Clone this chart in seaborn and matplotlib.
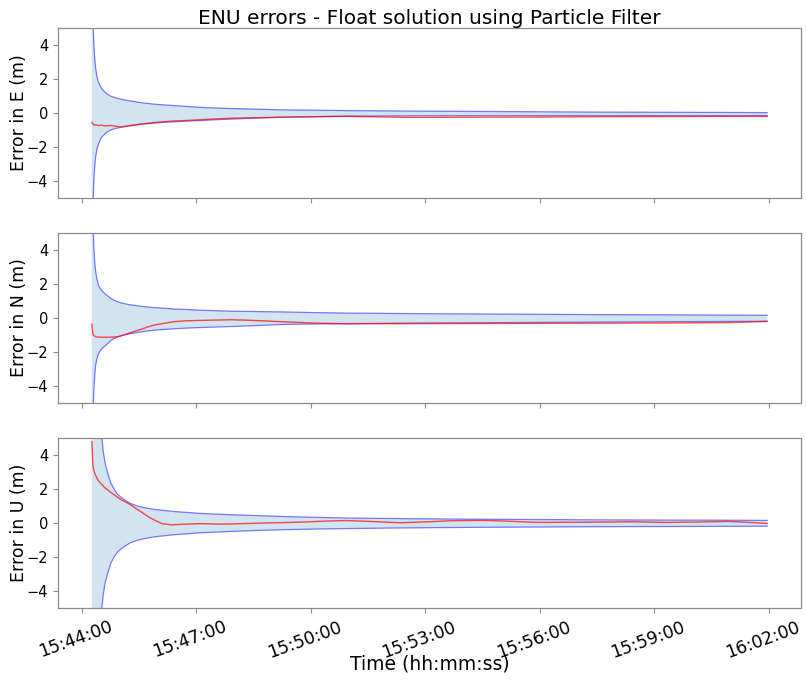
import numpy as np
import pandas as pd
import matplotlib
matplotlib.use("Agg")
import matplotlib.pyplot as plt
import matplotlib.dates as mdates
import matplotlib.transforms as mtransforms
import seaborn as sns

# ---- data ----
start_time = "2021-01-01 15:44:16"
t_s = [0, 1, 2, 3, 4, 5, 6, 8, 10, 12, 15, 18, 21, 25, 30, 35, 40, 45, 52, 60,
       70, 80, 90, 100, 115, 130, 150, 170, 195, 220, 260, 300, 350, 400, 500,
       600, 700, 800, 900, 1000, 1062]

e_upper = [40, 9, 5.4, 4.2, 3.5, 3.0, 2.65, 2.15, 1.86, 1.68, 1.47, 1.33, 1.21,
           1.09, 0.98, 0.92, 0.86, 0.82, 0.76, 0.71, 0.65, 0.59, 0.55, 0.51, 0.47,
           0.43, 0.38, 0.33, 0.29, 0.26, 0.22, 0.18, 0.16, 0.14, 0.11, 0.09, 0.07,
           0.05, 0.04, 0.03, 0.02]
e_lower = [-40, -9, -5.4, -4.1, -3.4, -2.95, -2.6, -2.15, -1.9, -1.7, -1.45, -1.33,
           -1.22, -1.1, -1.0, -0.94, -0.89, -0.85, -0.79, -0.74, -0.69, -0.65, -0.62,
           -0.59, -0.55, -0.52, -0.48, -0.45, -0.4, -0.36, -0.3, -0.25, -0.22, -0.19,
           -0.17, -0.16, -0.16, -0.16, -0.16, -0.16, -0.16]
e_err = [-0.55, -0.62, -0.65, -0.7, -0.72, -0.7, -0.68, -0.72, -0.74, -0.73, -0.72,
         -0.74, -0.76, -0.75, -0.74, -0.77, -0.8, -0.82, -0.8, -0.76, -0.7, -0.65,
         -0.6, -0.56, -0.51, -0.47, -0.44, -0.4, -0.35, -0.31, -0.28, -0.25, -0.22,
         -0.2, -0.26, -0.25, -0.24, -0.22, -0.21, -0.2, -0.2]

n_upper = [40, 9, 5.6, 4.3, 3.6, 3.1, 2.75, 2.3, 2.0, 1.82, 1.65, 1.52, 1.42, 1.3,
           1.15, 1.05, 0.96, 0.9, 0.84, 0.78, 0.73, 0.68, 0.64, 0.61, 0.57, 0.53,
           0.5, 0.46, 0.43, 0.4, 0.38, 0.36, 0.32, 0.29, 0.26, 0.24, 0.22, 0.2, 0.19,
           0.17, 0.16]
n_lower = [-40, -9, -5.7, -4.4, -3.7, -3.2, -2.8, -2.4, -2.15, -2.0, -1.85, -1.72,
           -1.64, -1.5, -1.32, -1.2, -1.12, -1.06, -0.98, -0.92, -0.86, -0.8, -0.75,
           -0.71, -0.67, -0.63, -0.59, -0.56, -0.53, -0.5, -0.44, -0.38, -0.35,
           -0.33, -0.3, -0.28, -0.26, -0.24, -0.22, -0.2, -0.19]
n_err = [-0.35, -0.75, -0.95, -1.02, -1.05, -1.08, -1.1, -1.11, -1.12, -1.12, -1.13,
         -1.13, -1.13, -1.13, -1.12, -1.12, -1.1, -1.06, -0.98, -0.88, -0.75, -0.63,
         -0.5, -0.4, -0.3, -0.21, -0.16, -0.14, -0.12, -0.1, -0.15, -0.22, -0.3,
         -0.34, -0.33, -0.32, -0.31, -0.3, -0.29, -0.27, -0.2]

u_upper = [40, 32, 25, 20, 16.5, 14, 12, 9.5, 7.8, 6.6, 5.3, 4.2, 3.5, 2.95, 2.35,
           2.0, 1.72, 1.55, 1.35, 1.17, 1.03, 0.93, 0.86, 0.8, 0.74, 0.68, 0.63,
           0.57, 0.53, 0.49, 0.44, 0.39, 0.34, 0.3, 0.26, 0.23, 0.21, 0.19, 0.18,
           0.17, 0.16]
u_lower = [-40, -32, -25, -20, -16.5, -14, -12, -9.5, -7.8, -6.6, -5.3, -4.2, -3.5,
           -2.95, -2.35, -2.0, -1.72, -1.55, -1.35, -1.17, -1.03, -0.93, -0.86, -0.8,
           -0.74, -0.68, -0.63, -0.57, -0.53, -0.49, -0.43, -0.39, -0.35, -0.32,
           -0.28, -0.25, -0.23, -0.21, -0.2, -0.19, -0.18]

u_t = [0, 1, 2, 4, 6, 10, 15, 20, 30, 45, 60, 70, 80, 90, 100, 110, 125, 150, 170,
       200, 220, 265, 300, 330, 370, 400, 450, 485, 530, 565, 615, 650, 700, 750,
       800, 850, 900, 950, 1000, 1030, 1062]
u_err = [4.8, 4.0, 3.3, 3.0, 2.8, 2.5, 2.3, 2.1, 1.8, 1.4, 1.1, 0.85, 0.6, 0.35,
         0.15, -0.03, -0.1, -0.06, -0.03, -0.06, -0.05, 0.0, 0.03, 0.06, 0.12, 0.15,
         0.08, 0.02, 0.08, 0.14, 0.16, 0.12, 0.04, 0.05, 0.06, 0.08, 0.04, 0.06, 0.1,
         0.05, -0.02]

panel_labels = ["Error in E (m)", "Error in N (m)", "Error in U (m)"]
title = "ENU errors - Float solution using Particle Filter"
xlabel = "Time (hh:mm:ss)"
yticks = [-4, -2, 0, 2, 4]

# ---- build time axes ----
t0 = pd.Timestamp(start_time)
times = t0 + pd.to_timedelta(t_s, unit="s")
times_u = t0 + pd.to_timedelta(u_t, unit="s")

panels = [
    (times, e_upper, e_lower, times, e_err),
    (times, n_upper, n_lower, times, n_err),
    (times, u_upper, u_lower, times_u, u_err),
]

sns.set_style("white")
plt.rcParams["font.family"] = ["DejaVu Sans"]
plt.rcParams["text.color"] = "black"
plt.rcParams["axes.labelcolor"] = "black"
plt.rcParams["axes.edgecolor"] = "#8c8c8c"
plt.rcParams["xtick.color"] = "#8c8c8c"
plt.rcParams["ytick.color"] = "#8c8c8c"
plt.rcParams["xtick.labelcolor"] = "black"
plt.rcParams["ytick.labelcolor"] = "black"
plt.rcParams["xtick.bottom"] = True
plt.rcParams["ytick.left"] = True

fig, axes = plt.subplots(3, 1, figsize=(8.06, 6.81), dpi=100, sharex=True)
fig.subplots_adjust(left=0.072, right=0.994, top=0.959, bottom=0.107, hspace=0.206)

band_color = (0.12, 0.47, 0.71, 0.2)
for ax, (tb, up, lo, te, err), lab in zip(axes, panels, panel_labels):
    ax.fill_between(tb, lo, up, color=band_color, linewidth=0)
    sns.lineplot(x=tb, y=up, ax=ax, color="blue", alpha=0.5, linewidth=0.9)
    sns.lineplot(x=tb, y=lo, ax=ax, color="blue", alpha=0.5, linewidth=0.9)
    sns.lineplot(x=te, y=err, ax=ax, color="red", alpha=0.7, linewidth=1.0)
    ax.set_ylim(-5, 5)
    ax.set_yticks(yticks)
    ax.tick_params(axis="y", labelsize=10.5, length=3.5)
    ax.tick_params(axis="x", length=3.5)
    ax.set_ylabel(lab, fontsize=12.5)
    ax.yaxis.set_label_coords(-0.040, 0.5)
    ax.set_xlabel("")
    for s in ax.spines.values():
        s.set_linewidth(0.9)

axes[-1].xaxis.set_major_locator(mdates.MinuteLocator(byminute=range(2, 60, 3)))
axes[-1].xaxis.set_major_formatter(mdates.DateFormatter("%H:%M:%S"))
shift = mtransforms.ScaledTranslation(-6 / 100, 0, fig.dpi_scale_trans)
for lbl in axes[-1].get_xticklabels():
    lbl.set_rotation(20)
    lbl.set_fontsize(12.5)
    lbl.set_transform(lbl.get_transform() + shift)
axes[-1].set_xlabel(xlabel, fontsize=13.5)
axes[-1].xaxis.set_label_coords(0.5, -0.272)
axes[0].set_title(title, fontsize=14.5, pad=3)

fig.savefig("out.png", dpi=100)
